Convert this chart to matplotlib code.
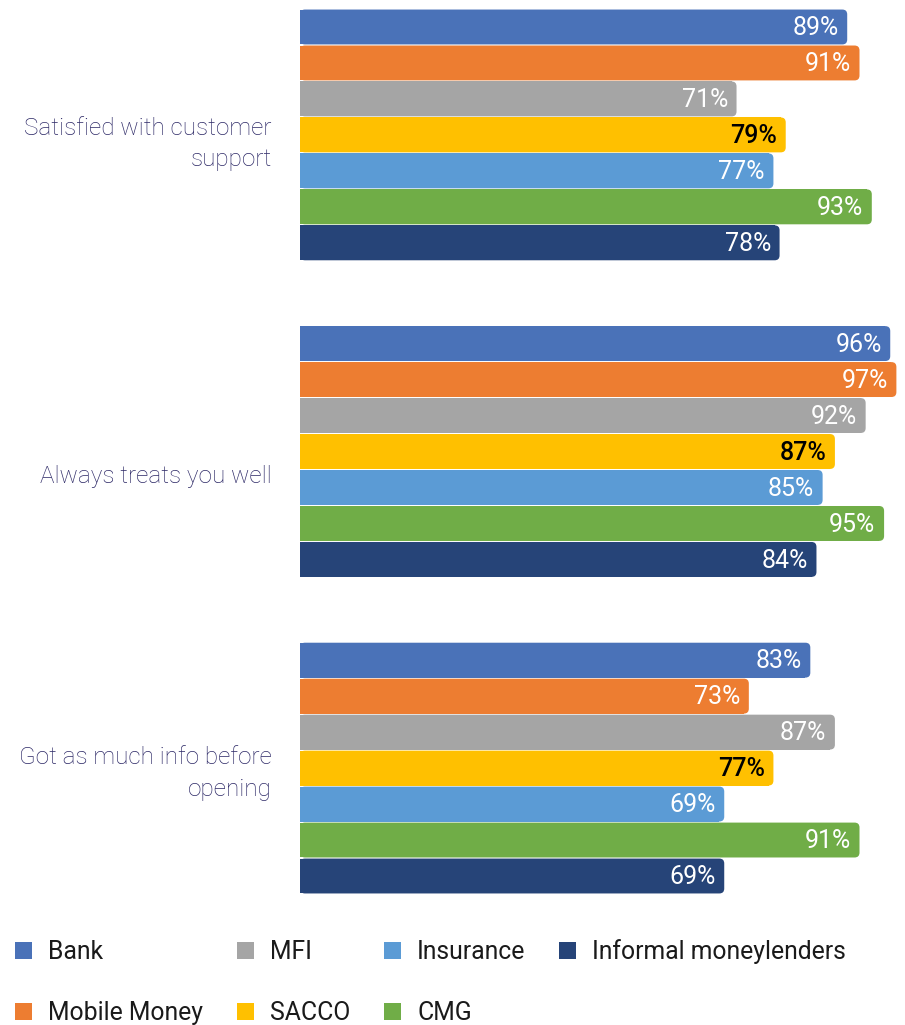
import numpy as np
import matplotlib
matplotlib.use("Agg")
import matplotlib.pyplot as plt
from matplotlib.patches import FancyBboxPatch

categories = ["Satisfied with customer\nsupport", "Always treats you well",
              "Got as much info before\nopening"]
series = ["Bank", "Mobile Money", "MFI", "SACCO", "Insurance", "CMG",
          "Informal moneylenders"]
colors = ["#4a72b8", "#ed7d31", "#a5a5a5", "#ffc000", "#5b9bd5", "#70ad47",
          "#264478"]
label_colors = ["white", "white", "white", "black", "white", "white", "white"]

bank = [89, 96, 83]
mobile_money = [91, 97, 73]
mfi = [71, 92, 87]
sacco = [79, 87, 77]
insurance = [77, 85, 69]
cmg = [93, 95, 91]
informal = [78, 84, 69]
values = [bank, mobile_money, mfi, sacco, insurance, cmg, informal]

# vertical nudge of each category label (in bar units), as in the original
label_nudge = [0.25, 0.7, 0.15]

plt.rcParams["font.family"] = ["Roboto", "DejaVu Sans"]

fig = plt.figure(figsize=(9.05, 10.25), dpi=100)
ax = fig.add_axes([300 / 905, 1 - 894 / 1025, 605 / 905, 885 / 1025])

group_step = 8.8
bar_h = 0.97
xmax = 98.4
ymin, ymax = -0.5, 2 * group_step + 6.5
ax.set_xlim(0, xmax)
ax.set_ylim(ymax, ymin)

# rounded right corners: aspect between y and x data units per pixel
asp = ((ymax - ymin) / 885) / (xmax / 605)
r = 0.8

handles = []
for i, (name, vals) in enumerate(zip(series, values)):
    ys = np.arange(len(categories)) * group_step + i
    vals = np.array(vals, dtype=float)
    h = ax.barh(ys, vals - r, height=bar_h, color=colors[i], label=name)
    handles.append(h)
    for y, v in zip(ys, vals):
        p = FancyBboxPatch((0, y - bar_h / 2), v, bar_h,
                           boxstyle=f"round,pad=0,rounding_size={r}",
                           mutation_aspect=asp, facecolor=colors[i],
                           edgecolor="none")
        ax.add_patch(p)
        ax.text(v - 1.4, y + 0.03, f"{v:.0f}%", ha="right", va="center",
                fontsize=18, color=label_colors[i],
                fontweight="medium" if label_colors[i] == "black" else "normal")

for g, cat in enumerate(categories):
    ax.text(-4.6, g * group_step + 3 + label_nudge[g], cat, ha="right",
            va="center", fontsize=17.5, fontweight="light", color="#2c2866",
            linespacing=1.45)

ax.set_xticks([])
ax.set_yticks([])
for s in ax.spines.values():
    s.set_visible(False)

fig.legend(handles=handles, loc="upper left", bbox_to_anchor=(0.003, 0.096),
           ncol=4, frameon=False, fontsize=17.8, handlelength=0.7,
           handleheight=0.7, handletextpad=0.65, columnspacing=1.35,
           labelspacing=1.5, borderpad=0, labelcolor="#1a1a1a")

fig.savefig("out.png", dpi=100)
